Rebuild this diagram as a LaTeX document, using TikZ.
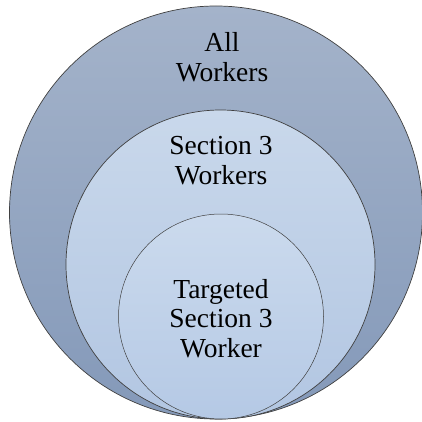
\documentclass[tikz,border=0pt]{standalone}
\usepackage{fontspec}
\setmainfont{Liberation Serif}
\begin{document}
\begin{tikzpicture}[x=1pt,y=-1pt,
  ring/.style={draw=black!75,line width=0.7pt},
  lbl/.style={align=center,inner sep=0pt,anchor=base,font=\fontsize{27.5}{29.5}\selectfont}]
\useasboundingbox (0,0) rectangle (422,422);
\definecolor{oTop}{RGB}{164,179,202}
\definecolor{oBot}{RGB}{132,153,185}
\definecolor{mTop}{RGB}{201,216,235}
\definecolor{mBot}{RGB}{178,198,226}
\definecolor{iTop}{RGB}{203,218,237}
\definecolor{iBot}{RGB}{181,201,229}
\coordinate (oc) at (216,212.5);
\coordinate (mc) at (220.5,264.5);
\coordinate (ic) at (221,316.5);
\path[ring,top color=oTop,bottom color=oBot] (oc) circle[radius=206.5];
\path[ring,top color=mTop,bottom color=mBot] (mc) circle[radius=154.5];
\path[ring,line width=0.5pt,top color=iTop,bottom color=iBot] (ic) circle[radius=102.5];
\node[lbl] (all) at (222,81.5) {All\\Workers};
\node[lbl] (sec) at (221,184) {Section 3\\Workers};
\node[lbl] (tgt) at (221,357) {Targeted\\Section 3\\Worker};
\end{tikzpicture}
\end{document}
